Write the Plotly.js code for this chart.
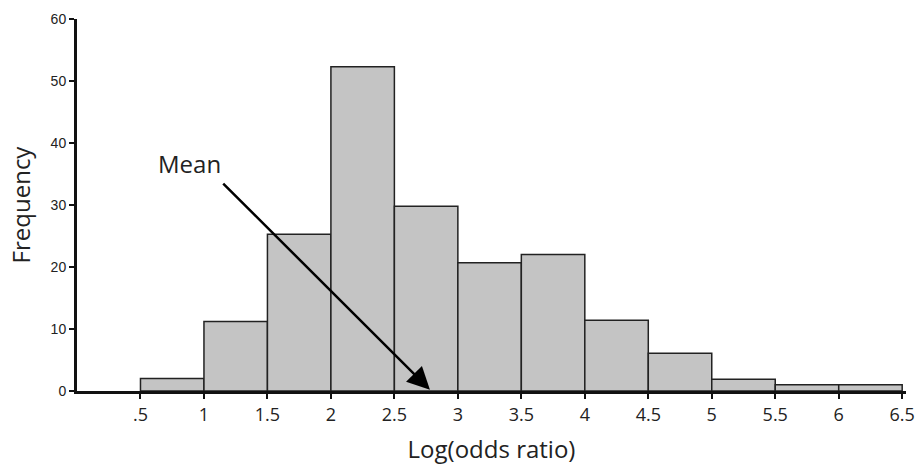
<!DOCTYPE html>
<html><head><meta charset="utf-8">
<script src="https://cdn.plot.ly/plotly-3.0.1.min.js"></script>
<style>html,body{margin:0;padding:0;background:#fff}#c{width:917px;height:465px}</style>
</head><body><div id="c"></div>
<script>
const binCenters = [0.75, 1.25, 1.75, 2.25, 2.75, 3.25, 3.75, 4.25, 4.75, 5.25, 5.75, 6.25];
const frequencies = [2, 11.2, 25.3, 52.3, 29.8, 20.7, 22, 11.4, 6.1, 1.9, 1, 1];
const xTickVals = [0.5, 1, 1.5, 2, 2.5, 3, 3.5, 4, 4.5, 5, 5.5, 6, 6.5];
const xTickText = ['.5', '1', '1.5', '2', '2.5', '3', '3.5', '4', '4.5', '5', '5.5', '6', '6.5'];
const yTickVals = [0, 10, 20, 30, 40, 50, 60];
const meanValue = 2.78;
const meanLabel = 'Mean';

const trace = {
  type: 'bar', x: binCenters, y: frequencies, width: 0.5,
  marker: {color: '#c4c4c4', line: {color: '#222', width: 1.5}},
  hoverinfo: 'skip'
};
const layout = {
  width: 917, height: 465,
  margin: {l: 77, r: 11, t: 18.5, b: 74.3},
  paper_bgcolor: '#fff', plot_bgcolor: '#fff',
  showlegend: false,
  xaxis: {
    range: [0, 6.53], showgrid: false, zeroline: false,
    showline: true, linecolor: '#111', linewidth: 3,
    ticks: 'outside', ticklen: 5, tickwidth: 2, tickcolor: '#111',
    tickvals: xTickVals, ticktext: xTickText,
    tickfont: {family: 'Open Sans, sans-serif', size: 18, color: '#222'},
    title: {text: 'Log(odds ratio)', font: {family: 'Open Sans, sans-serif', size: 24, color: '#222'}, standoff: 17}
  },
  yaxis: {
    range: [0, 60], showgrid: false, zeroline: false,
    showline: true, linecolor: '#111', linewidth: 3,
    ticks: 'outside', ticklen: 5, tickwidth: 2, tickcolor: '#111',
    tickvals: yTickVals,
    tickfont: {family: 'Liberation Sans, Arial, sans-serif', size: 14, color: '#222'},
    title: {text: 'Frequency', font: {family: 'Open Sans, sans-serif', size: 24, color: '#222'}, standoff: 14}
  },
  annotations: [
    {x: meanValue, y: 0.2, xref: 'x', yref: 'y', ax: 1.14, ay: 33.7, axref: 'x', ayref: 'y',
     text: '', showarrow: true, arrowhead: 2, arrowsize: 1.8, arrowwidth: 2.5, arrowcolor: '#000'},
    {x: 0.885, y: 36.7, xref: 'x', yref: 'y', text: meanLabel, showarrow: false,
     font: {family: 'Open Sans, sans-serif', size: 24, color: '#222'}}
  ]
};
Plotly.newPlot('c', [trace], layout, {displayModeBar: false, staticPlot: true});
</script></body></html>
